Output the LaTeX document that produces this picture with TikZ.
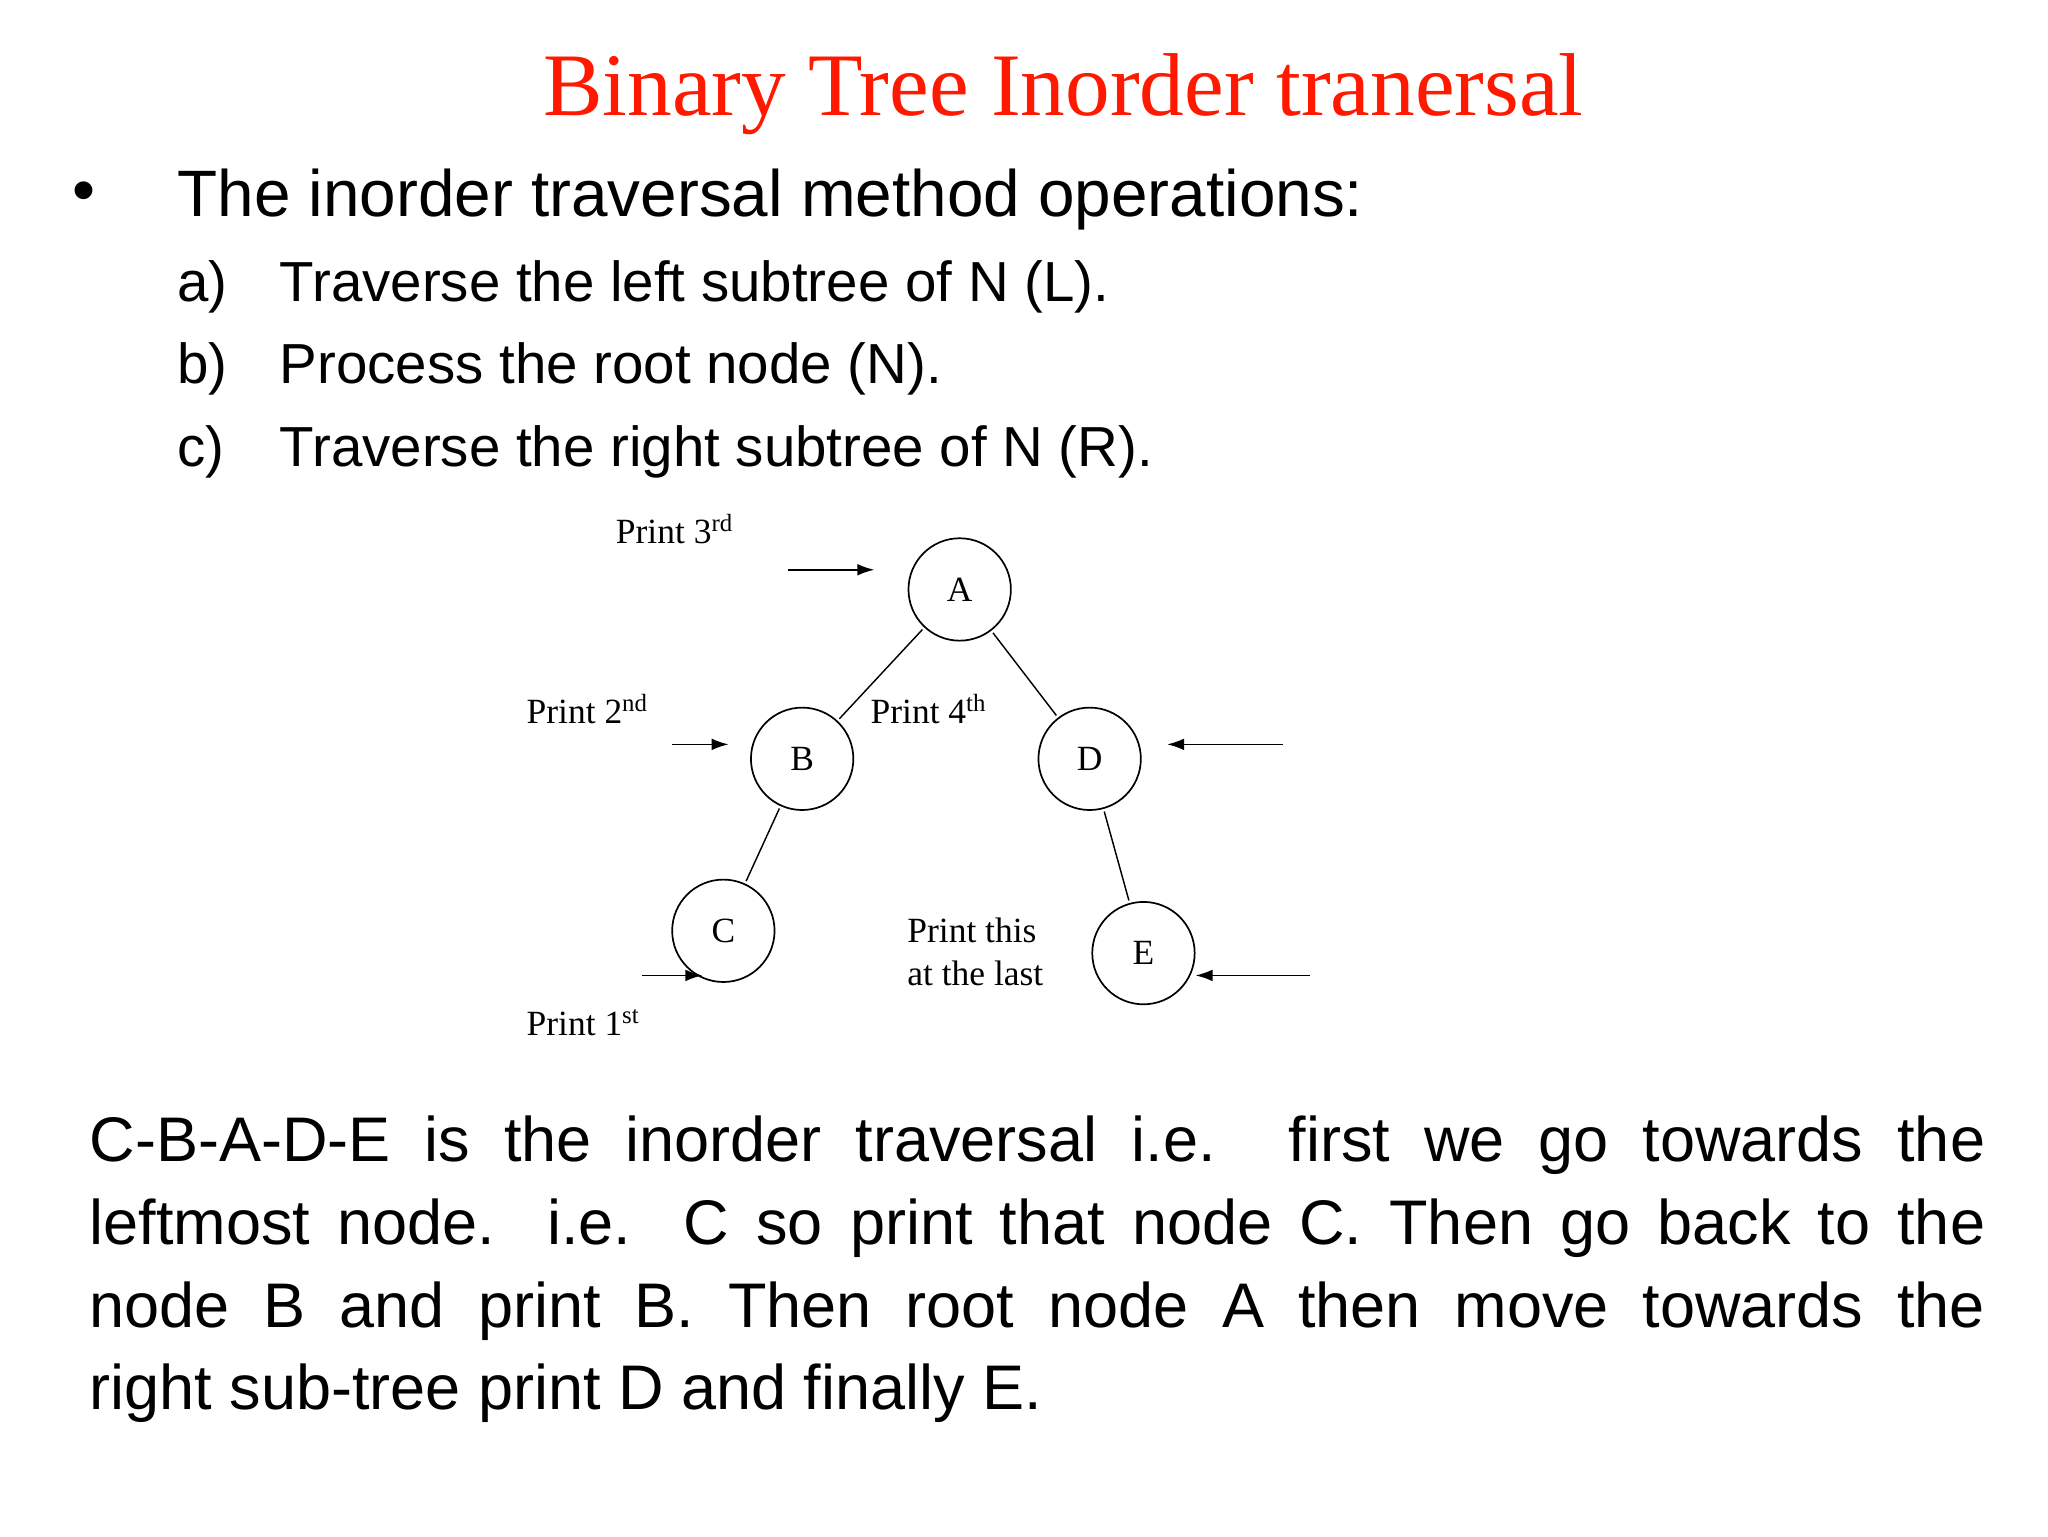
\documentclass[tikz,border=0pt]{standalone}
\usepackage{fontspec}
\setmainfont{Liberation Sans}
\newfontfamily\serifx{Liberation Serif}
\usetikzlibrary{arrows.meta}
\begin{document}
\begin{tikzpicture}[x=1pt,y=-1pt,
  tn/.style={draw,circle,minimum size=78pt,inner sep=0pt,line width=1.3pt,font=\serifx\fontsize{27}{30}\selectfont},
  ed/.style={line width=1.1pt,shorten <=2pt,shorten >=2pt},
  ar/.style={line width=1.3pt,-{Latex[length=13pt,width=9pt]}},
  lb/.style={anchor=base west,inner sep=0pt,font=\serifx\fontsize{27}{30}\selectfont},
  tx/.style={anchor=base west,inner sep=0pt}]
\useasboundingbox (0,0) rectangle (1560,1170);
\node[anchor=base,inner sep=0pt,text=red!80!orange,font=\serifx\fontsize{68}{70}\selectfont] (title) at (810,88) {Binary Tree Inorder tranersal};
\node[tx,font=\fontsize{50}{52}\selectfont] (bul) at (55,162) {•};
\node[tx,font=\fontsize{50}{52}\selectfont] (head) at (135,165) {The inorder traversal method operations:};
\begin{scope}[every node/.style={tx,font=\fontsize{43}{45}\selectfont}]
\node (la) at (135,230) {a)}; \node (ta) at (213,230) {Traverse the left subtree of N (L).};
\node (lb2) at (135,292) {b)}; \node (tb) at (213,292) {Process the root node (N).};
\node (lc) at (135,355) {c)}; \node (tc) at (213,355) {Traverse the right subtree of N (R).};
\end{scope}
\node[tn] (A) at (731,449) {A};
\node[tn] (B) at (611,578) {B};
\node[tn] (D) at (830,578) {D};
\node[tn] (C) at (551,709) {C};
\node[tn] (E) at (871,726) {E};
\draw[ed] (A) -- (B); \draw[ed] (A) -- (D); \draw[ed] (B) -- (C); \draw[ed] (D) -- (E);
\coordinate (s3) at (600,434); \coordinate (s2) at (512,567); \coordinate (sD) at (977,567);
\coordinate (sE) at (998,743); \coordinate (s1) at (489,743);
\draw[ar] (s3) -- (666,434);
\draw[ar] (s2) -- (555,567);
\draw[ar] (sD) -- (889,567);
\draw[ar] (sE) -- (E.east |- sE);
\draw[ar] (s1) -- (535,743);
\node[lb] (p3) at (469,414) {Print 3\textsuperscript{rd}};
\node[lb] (p2) at (401,551) {Print 2\textsuperscript{nd}};
\node[lb] (p4) at (663,551) {Print 4\textsuperscript{th}};
\node[lb] (p5) at (691,718) {Print this};
\node[lb] (p6) at (691,751) {at the last};
\node[lb] (p1) at (401,789) {Print 1\textsuperscript{st}};
\node[anchor=north west,inner sep=0pt,text width=1444pt,align=justify,font=\fontsize{48}{63}\selectfont] (par) at (68,850)
{C-B-A-D-E is the inorder traversal i.e. first we go towards the\linebreak leftmost node. i.e. C so print that node C. Then go back to the\linebreak node B and print B. Then root node A then move towards the\linebreak right sub-tree print D and finally E.};
\end{tikzpicture}
\end{document}
